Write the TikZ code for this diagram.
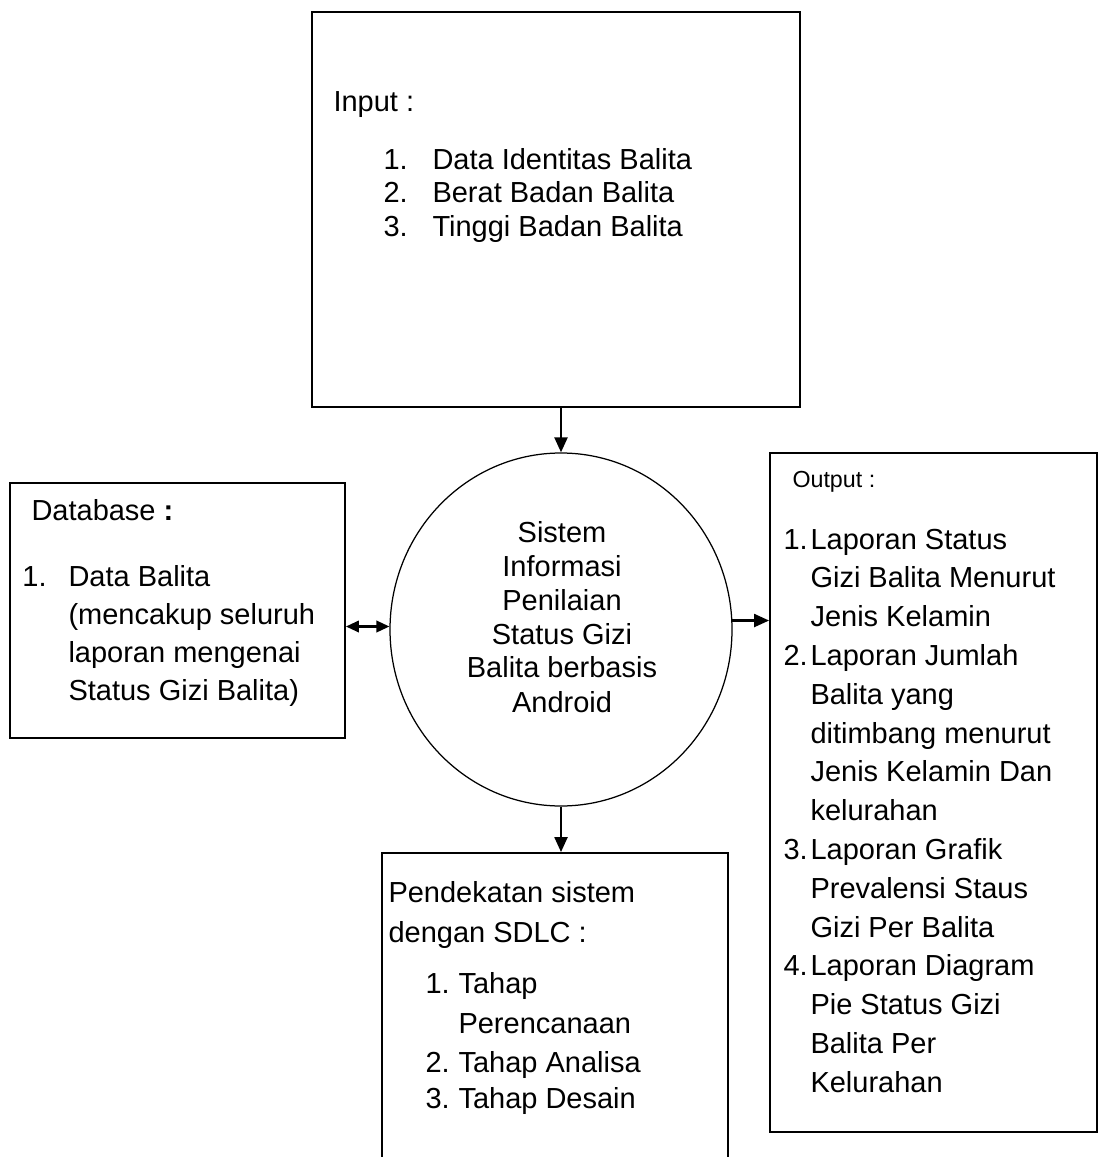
\documentclass[tikz,border=0pt]{standalone}
\usepackage{fontspec}
\setmainfont{Liberation Sans}
\usetikzlibrary{arrows.meta,shapes.geometric}

\begin{document}
\begin{tikzpicture}[x=0.4pt,y=-0.4pt,
  box/.style={draw,line width=0.75pt,rectangle,inner sep=0pt},
  txt/.style={anchor=base west,inner sep=0pt,font=\fontsize{11.6}{14}\selectfont},
  ctxt/.style={txt,anchor=base},
  flow/.style={line width=0.9pt,-{Triangle[length=6pt,width=5.2pt]}}]
\useasboundingbox (0,0) rectangle (1099,1157);
\clip (0,0) rectangle (1099,1157);

% boxes
\node[box,minimum width=195.2pt,minimum height=158pt] (input) at (556,209.5) {};
\node[box,minimum width=134pt,minimum height=102pt] (db) at (177.5,610.5) {};
\node[box,minimum width=130.8pt,minimum height=271.6pt] (output) at (933.5,792.5) {};
\node[box,minimum width=138.4pt,minimum height=126.8pt] (sdlc) at (555,1011.5) {};
\node[draw,ellipse,line width=0.5pt,inner sep=0pt,minimum width=136.8pt,minimum height=141.2pt] (sys) at (561,629.5) {};

% connectors
\draw[flow] (sys.north |- input.south) -- (sys.north);
\draw[flow] (sys.south) -- (sys.south |- sdlc.north);
\draw[flow] (sys.3) -- (sys.3 -| output.west);
\draw[line width=0.9pt,{Triangle[length=5.2pt,width=4.6pt]}-{Triangle[length=5.2pt,width=4.6pt]}] (db.east |- sys.179) -- (sys.179);

% Input
\node[txt] (in-title) at (333,112) {Input :};
\foreach \n/\t/\y in {1/Data Identitas Balita/170, 2/Berat Badan Balita/203, 3/Tinggi Badan Balita/237}{
  \node[txt] (in-num-\n) at (383,\y) {\n.};
  \node[txt] (in-item-\n) at (432,\y) {\t};
}

% Database
\node[txt] (db-title) at (31,520) {Database \textbf{:}};
\node[txt] (db-num) at (22,586) {1.};
\foreach \t [count=\k from 0] in {{Data Balita},{(mencakup seluruh},{laporan mengenai},{Status Gizi Balita)}}{
  \node[txt] (db-line-\k) at (68,586+38.2*\k) {\t};
}

% Sistem
\foreach \t/\y in {Sistem/542, Informasi/576, Penilaian/610, Status Gizi/644, Balita berbasis/677, Android/712}{
  \node[ctxt] (sys-\y) at (562,\y) {\t};
}

% Output
\node[txt,font=\fontsize{9.3}{11}\selectfont] (out-title) at (792,487) {Output :};
\foreach \n/\k in {1/0, 2/3, 3/8, 4/11}{
  \node[txt] (out-num-\n) at (783,549+38.8*\k) {\n.};
}
\foreach \t [count=\k from 0] in {Laporan Status,Gizi Balita Menurut,Jenis Kelamin,Laporan Jumlah,Balita yang,ditimbang menurut,Jenis Kelamin Dan,kelurahan,Laporan Grafik,Prevalensi Staus,Gizi Per Balita,Laporan Diagram,Pie Status Gizi,Balita Per,Kelurahan}{
  \node[txt] (out-line-\k) at (810,549+38.8*\k) {\t};
}

% SDLC
\node[txt] (sdlc-title-1) at (388,902) {Pendekatan sistem};
\node[txt] (sdlc-title-2) at (388,942) {dengan SDLC :};
\node[txt] (sdlc-num-1) at (425,993) {1.};
\node[txt] (sdlc-item-1) at (458,993) {Tahap};
\node[txt] (sdlc-item-1b) at (458,1033) {Perencanaan};
\node[txt] (sdlc-num-2) at (425,1072) {2.};
\node[txt] (sdlc-item-2) at (458,1072) {Tahap Analisa};
\node[txt] (sdlc-num-3) at (425,1108) {3.};
\node[txt] (sdlc-item-3) at (458,1108) {Tahap Desain};

\end{tikzpicture}
\end{document}
